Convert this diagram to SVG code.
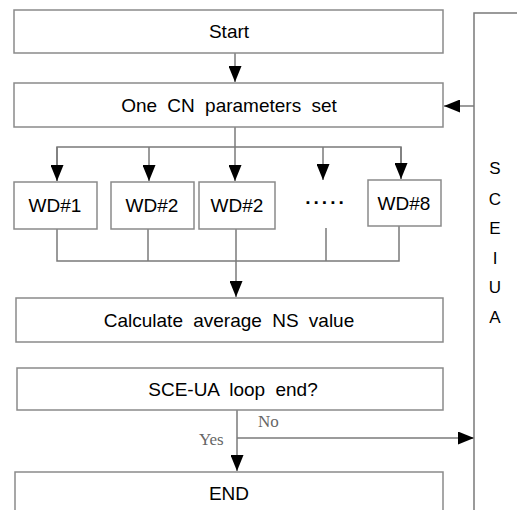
<svg xmlns="http://www.w3.org/2000/svg" width="517" height="510" viewBox="0 0 517 510">
  <style>
    .box { fill: #ffffff; stroke: #8a8a8a; stroke-width: 1.5; }
    .lbl { font-family: "Liberation Sans", Arial, sans-serif; font-size: 19px; fill: #000; text-anchor: middle; word-spacing: 5px; }
    .side { font-family: "Liberation Sans", Arial, sans-serif; font-size: 17px; fill: #000; text-anchor: middle; }
    .yn { font-family: "Liberation Serif", "Times New Roman", serif; font-size: 17px; fill: #666; }
    .wire { fill: none; stroke: #7a7a7a; stroke-width: 1.5; }
    .arrow { fill: none; stroke: #7a7a7a; stroke-width: 1.5; marker-end: url(#head); }
  </style>
  <defs>
    <marker id="head" markerUnits="userSpaceOnUse" markerWidth="16" markerHeight="13" viewBox="0 0 16 13" refX="16" refY="6.5" orient="auto">
      <path d="M0,0 L16,6.5 L0,13 z" fill="#000"/>
    </marker>
  </defs>
  <rect width="517" height="510" fill="#ffffff"/>

  <g id="connectors">
    <!-- Start to parameter set -->
    <line class="arrow" x1="235" y1="53" x2="235" y2="82"/>
    <!-- fan-out to the watersheds -->
    <line class="arrow" x1="235" y1="127" x2="235" y2="181"/>
    <polyline class="wire" points="57,181 57,147 401,147 401,179"/>
    <line class="arrow" x1="57" y1="147" x2="57" y2="181"/>
    <line class="arrow" x1="149" y1="147" x2="149" y2="181"/>
    <line class="arrow" x1="323" y1="147" x2="323" y2="180"/>
    <line class="arrow" x1="401" y1="147" x2="401" y2="179"/>
    <!-- fan-in to the averaging step -->
    <polyline class="wire" points="57,229 57,261 399,261 399,226"/>
    <line class="wire" x1="148" y1="229" x2="148" y2="261"/>
    <line class="wire" x1="326" y1="228" x2="326" y2="261"/>
    <line class="arrow" x1="236" y1="229" x2="236" y2="297"/>
    <!-- loop check -->
    <line class="arrow" x1="237" y1="410" x2="237" y2="471"/>
    <line class="arrow" x1="237" y1="438" x2="474" y2="438"/>
    <!-- SCE-UA feedback loop -->
    <polyline class="wire" points="517,13 474,13 474,510"/>
    <line class="arrow" x1="474" y1="106" x2="444" y2="106"/>
    <text class="yn" x="199" y="445">Yes</text>
    <text class="yn" x="258" y="427">No</text>
  </g>

  <g id="start">
    <rect class="box" x="14" y="10" width="429" height="43"/>
    <text class="lbl" x="229" y="38">Start</text>
  </g>
  <g id="param-set">
    <rect class="box" x="14" y="83" width="429" height="44"/>
    <text class="lbl" x="229" y="112">One CN parameters set</text>
  </g>
  <g id="wd1">
    <rect class="box" x="14" y="182" width="83" height="47"/>
    <text class="lbl" x="55" y="212">WD#1</text>
  </g>
  <g id="wd2">
    <rect class="box" x="111" y="182" width="83" height="47"/>
    <text class="lbl" x="152" y="212">WD#2</text>
  </g>
  <g id="wd3">
    <rect class="box" x="199" y="182" width="76" height="47"/>
    <text class="lbl" x="237" y="212">WD#2</text>
  </g>
  <g id="wd-more">
    <text class="lbl" x="326" y="209" font-weight="bold" letter-spacing="2">·····</text>
  </g>
  <g id="wd8">
    <rect class="box" x="368" y="180" width="73" height="46"/>
    <text class="lbl" x="404" y="210">WD#8</text>
  </g>
  <g id="average">
    <rect class="box" x="16" y="298" width="427" height="44"/>
    <text class="lbl" x="229" y="327">Calculate average NS value</text>
  </g>
  <g id="loop-end">
    <rect class="box" x="17" y="368" width="426" height="42"/>
    <text class="lbl" x="233" y="396" word-spacing="8">SCE-UA loop end?</text>
  </g>
  <g id="end">
    <rect class="box" x="15" y="472" width="428" height="45"/>
    <text class="lbl" x="229" y="500">END</text>
  </g>
  <g id="sceua-label">
    <text class="side" x="495" y="174">S</text>
    <text class="side" x="495" y="205">C</text>
    <text class="side" x="495" y="234">E</text>
    <text class="side" x="495" y="264">I</text>
    <text class="side" x="495" y="293">U</text>
    <text class="side" x="495" y="323">A</text>
  </g>
</svg>
